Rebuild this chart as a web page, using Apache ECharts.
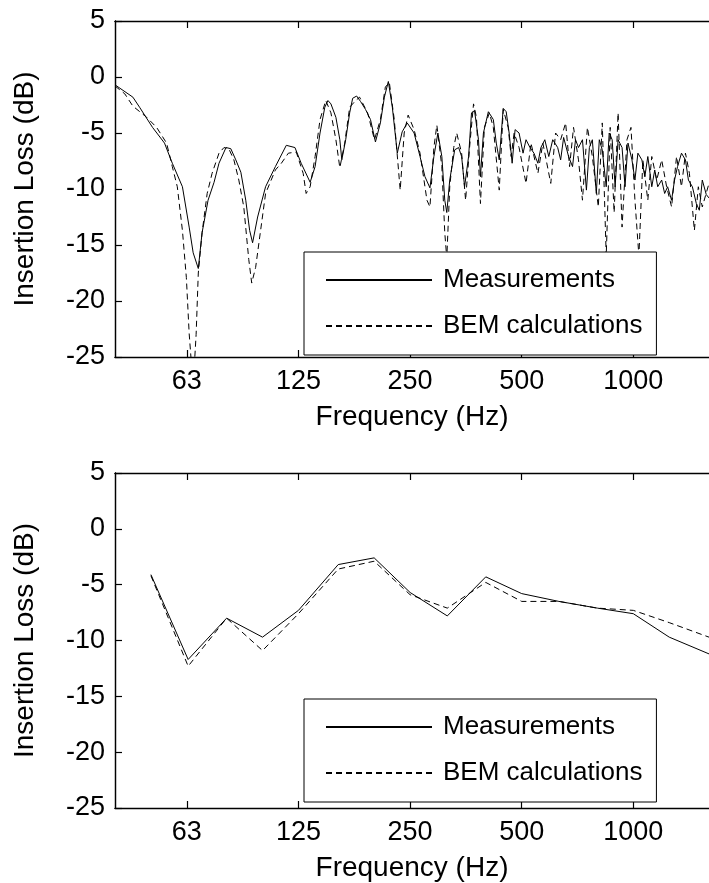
<!DOCTYPE html>
<html>
<head>
<meta charset="utf-8">
<script src="https://cdn.jsdelivr.net/npm/echarts@6/dist/echarts.min.js"></script>
<style>html,body{margin:0;background:#fff}#chart{width:709px;height:883px}</style>
</head>
<body>
<div id="chart"></div>
<script>
// narrowband insertion loss, top panel (Hz, dB)
const measFreq = [40, 44.7, 46.6, 50.5, 54.4, 57.1, 60.8, 63.4, 65.0, 67.1, 68.7, 71.3, 74.0, 76.3, 79.7,
  82.1, 84.7, 87.4, 90.1, 92.3, 94.0, 97.0, 101.9, 108.3, 115.9, 122.3, 127.1, 134.4, 138.6, 142.9,
  147.2, 150.1, 152.9, 157.7, 161.6, 163.6, 167.6, 171.8, 175.0, 179.4, 183.9, 189.6, 195.5, 201.6,
  207.9, 213.1, 218.4, 223.9, 230.9, 238.0, 245.5, 256.3, 265.9, 274.2, 282.8, 289.8, 297.1, 304.5,
  310.1, 314.0, 319.8, 329.8, 338.0, 344.3, 350.7, 359.5, 366.1, 373.0, 382.3, 387.0, 394.2, 406.5,
  419.2, 427.0, 434.9, 445.8, 454.1, 462.5, 471.2, 479.9, 491.9, 504.2, 513.6, 526.4, 539.5, 552.9,
  563.2, 577.2, 591.6, 606.3, 625.2, 636.8, 648.7, 669.0, 685.6, 698.4, 711.4, 729.2, 747.3, 761.2,
  775.4, 794.7, 809.5, 824.6, 845.1, 860.9, 876.9, 893.2, 909.8, 932.5, 949.8, 967.5, 991.6, 1010.1,
  1028.9, 1054.5, 1074.2, 1094.2, 1121.5, 1142.3, 1163.6, 1192.6, 1214.8, 1237.4, 1268.3, 1291.9,
  1316.0, 1348.7, 1382.3, 1408.0, 1443.1, 1479.0, 1506.6, 1534.7, 1573.1, 1600];
const measIL = [-0.7, -1.8, -2.7, -4.5, -5.9, -7.7, -9.8, -13.4, -15.7, -17.1, -13.9, -11.0, -9.4, -7.7, -6.3,
  -6.4, -7.4, -8.5, -11.0, -13.7, -14.8, -12.5, -9.8, -8.0, -6.1, -6.3, -7.7, -9.4, -8.0, -5.0,
  -2.7, -2.1, -2.4, -3.6, -5.6, -7.4, -5.6, -3.2, -1.9, -1.7, -2.2, -2.9, -3.8, -5.8,
  -4.1, -1.8, -0.4, -2.7, -6.8, -4.9, -4.1, -5.0, -7.1, -8.9, -9.9, -7.1, -5.0, -7.1,
  -11.0, -12.1, -9.2, -6.5, -6.3, -7.1, -9.8, -7.1, -3.2, -3.0, -5.6, -8.9, -5.0, -3.1,
  -3.8, -5.9, -7.4, -2.8, -3.1, -5.0, -7.7, -4.7, -5.0, -6.8, -5.6, -6.3, -6.8, -7.7,
  -6.3, -5.6, -7.1, -5.6, -6.3, -7.4, -5.4, -7.1, -8.0, -5.6, -6.3, -5.6, -10.1, -6.3,
  -5.6, -10.4, -5.6, -6.5, -9.8, -5.0, -5.6, -9.8, -5.6, -6.3, -9.8, -5.9, -7.4, -9.2,
  -6.8, -7.4, -8.9, -7.1, -9.8, -8.3, -9.8, -9.2, -10.4, -9.8, -11.0, -9.2,
  -8.0, -6.8, -7.4, -9.2, -9.8, -11.3, -11.9, -9.2, -10.5, -10.8];

const bemFreq = [40, 42.5, 44.7, 48.7, 51.8, 55.1, 57.1, 58.9, 60.8, 62.3, 63.4, 64.6, 65.0, 66.2, 67.1,
  68.7, 70.9, 73.1, 76.3, 78.7, 81.1, 83.7, 86.3, 89.0, 91.8, 93.5, 95.8, 98.8, 101.9, 108.3, 112.4,
  117.4, 123.3, 128.7, 131.1, 134.4, 138.6, 142.9, 148.1, 152.9, 157.7, 161.6, 166.6, 171.8, 178.3,
  182.7, 192.0, 200.4, 207.9, 214.4, 219.8, 226.6, 235.1, 241.0, 247.0, 256.3, 265.9, 277.6, 282.8,
  289.8, 295.2, 304.5, 310.1, 314.0, 319.8, 327.8, 333.9, 344.3, 352.9, 361.7, 370.7, 377.5, 387.0,
  396.6, 409.0, 419.2, 434.9, 445.8, 459.7, 468.3, 477.0, 491.9, 513.6, 529.6, 552.9, 570.2, 598.9,
  617.1, 636.8, 656.8, 673.1, 689.9, 711.4, 729.2, 751.9, 775.4, 804.6, 824.6, 845.1, 866.2, 887.7,
  909.8, 932.5, 961.3, 985.6, 1010.1, 1035.3, 1061.1, 1094.2, 1121.5, 1156.5, 1192.6, 1229.9, 1268.3,
  1307.9, 1348.7, 1382.3, 1416.7, 1461.1, 1497.3, 1534.7, 1600];
const bemIL = [-0.8, -1.5, -2.6, -3.6, -4.5, -5.9, -8.0, -9.8, -13.7, -17.9, -22.9, -26.5, -27.5, -23.0, -17.5,
  -13.9, -10.4, -8.6, -6.8, -6.3, -6.4, -7.4, -9.2, -11.6, -16.3, -18.4, -17.0, -13.7, -10.4, -8.3, -7.7,
  -6.8, -6.7, -8.6, -10.4, -9.8, -7.1, -3.8, -2.1, -3.2, -5.6, -8.1, -5.9, -2.7, -2.1,
  -1.8, -3.2, -5.6, -3.8, -0.9, -0.5, -3.8, -10.1, -5.0, -3.4, -4.7, -6.8, -11.0, -11.6,
  -6.3, -4.3, -8.0, -13.9, -16.2, -9.8, -6.3, -5.0, -6.8, -11.0, -6.3, -2.4, -3.6, -11.3,
  -4.5, -3.2, -4.5, -10.1, -2.9, -4.5, -7.1, -5.0, -6.3, -9.5, -5.9, -8.6, -5.9, -9.5,
  -5.0, -5.6, -4.1, -8.0, -4.5, -7.4, -11.0, -4.5, -7.1, -11.6, -4.1, -16.0, -4.5, -12.1,
  -3.2, -13.4, -5.6, -4.5, -11.0, -16.0, -7.4, -11.0, -7.1, -9.2, -7.4, -9.8, -11.6,
  -7.1, -9.8, -6.8, -8.6, -13.7, -9.8, -11.6, -9.5];

// one-third octave bands, bottom panel
const bandFreq = [50, 63, 80, 100, 125, 160, 200, 250, 315, 400, 500, 630, 800, 1000, 1250, 1600];
const bandMeas = [-4.1, -11.7, -8.0, -9.7, -7.3, -3.2, -2.6, -5.7, -7.8, -4.3, -5.8, -6.5, -7.1, -7.6, -9.7, -11.2];
const bandBem = [-4.2, -12.3, -8.0, -10.9, -7.6, -3.6, -2.9, -5.9, -7.1, -4.8, -6.5, -6.5, -7.1, -7.3, -8.4, -9.7];

const tickFreq = [62.5, 125, 250, 500, 1000];
const tickText = ['63', '125', '250', '500', '1000'];

const font = 'Liberation Sans, Arial, sans-serif';
const pairs = (xs, ys) => xs.map((x, i) => [x, ys[i]]);

function tickLabel(v) {
  for (let i = 0; i < tickFreq.length; i++) {
    if (Math.abs(v - tickFreq[i]) < 0.01 * tickFreq[i]) return tickText[i];
  }
  return '';
}

function xAx(grid, pos) {
  const bottom = pos === 'bottom';
  return {
    type: 'log', logBase: 2, min: 40, max: 1600, gridIndex: grid, position: pos,
    axisLine: { show: true, onZero: false, lineStyle: { color: '#000', width: 1.3 } },
    axisTick: { show: false },
    axisLabel: { show: bottom, customValues: tickFreq, formatter: tickLabel, margin: 11,
      fontFamily: font, fontSize: 27, color: '#000' },
    splitLine: { show: false },
    name: bottom ? 'Frequency (Hz)' : '', nameLocation: 'middle', nameGap: 46,
    nameTextStyle: { fontFamily: font, fontSize: 28, color: '#000' }
  };
}

function yAx(grid) {
  return {
    type: 'value', min: -25, max: 5, interval: 5, gridIndex: grid,
    axisLine: { show: true, onZero: false, lineStyle: { color: '#000', width: 1.3 } },
    axisTick: { show: false },
    axisLabel: { margin: 10, fontFamily: font, fontSize: 27, color: '#000' },
    splitLine: { show: false },
    name: 'Insertion Loss (dB)', nameLocation: 'middle', nameGap: 76,
    nameTextStyle: { fontFamily: font, fontSize: 28, color: '#000' }
  };
}

// plain axes that only carry the inward tick marks
function xTicks(grid, pos) {
  return {
    type: 'log', logBase: 2, min: 40, max: 1600, gridIndex: grid, position: pos,
    axisLine: { show: true, onZero: false, lineStyle: { color: '#000', width: 1.2 } },
    axisTick: { show: true, inside: true, length: 7, customValues: tickFreq, lineStyle: { color: '#000', width: 1.2 } },
    axisLabel: { show: false, customValues: tickFreq },
    splitLine: { show: false }
  };
}

function yTicks(grid) {
  return {
    type: 'value', min: -25, max: 5, interval: 5, gridIndex: grid, position: 'left',
    axisLine: { show: true, onZero: false, lineStyle: { color: '#000', width: 1.2 } },
    axisTick: { show: true, inside: true, length: 7, lineStyle: { color: '#000', width: 1.2 } },
    axisLabel: { show: false },
    splitLine: { show: false }
  };
}

function legendAt(top) {
  return {
    orient: 'vertical', left: 304, top: top,
    data: ['Measurements', 'BEM calculations'],
    itemWidth: 106, itemHeight: 20, itemGap: 20,
    padding: [15, 14, 16, 21],
    borderColor: '#000', borderWidth: 1, backgroundColor: '#fff',
    selectedMode: false,
    itemStyle: { opacity: 0 },
    textStyle: { fontFamily: font, fontSize: 26, color: '#000', padding: [0, 0, 0, 6] }
  };
}

function line(name, data, xi, yi, dashed) {
  return {
    name: name, type: 'line', data: data, xAxisIndex: xi, yAxisIndex: yi,
    symbol: 'none', clip: true,
    lineStyle: { color: '#000', width: 1, type: dashed ? [6, 4] : 'solid' },
    itemStyle: { color: '#000' }
  };
}

const chart = echarts.init(document.getElementById('chart'));
chart.setOption({
  animation: false,
  grid: [
    { left: 115, top: 21, width: 600, height: 336 },
    { left: 115, top: 473, width: 600, height: 336 }
  ],
  xAxis: [xAx(0, 'bottom'), xAx(0, 'top'), xAx(1, 'bottom'), xAx(1, 'top'),
    xTicks(0, 'bottom'), xTicks(0, 'top'), xTicks(1, 'bottom'), xTicks(1, 'top')],
  yAxis: [yAx(0), yAx(1), yTicks(0), yTicks(1)],
  legend: [legendAt(252), legendAt(699)],
  series: [
    line('Measurements', pairs(measFreq, measIL), 0, 0, false),
    line('BEM calculations', pairs(bemFreq, bemIL), 0, 0, true),
    line('Measurements', pairs(bandFreq, bandMeas), 2, 1, false),
    line('BEM calculations', pairs(bandFreq, bandBem), 2, 1, true)
  ]
});
</script>
</body>
</html>
